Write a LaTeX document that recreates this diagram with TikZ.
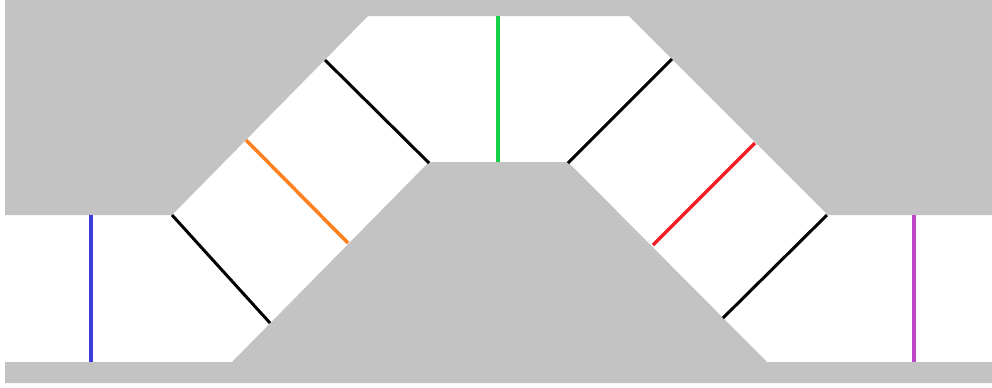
\documentclass[tikz,border=0pt]{standalone}
\definecolor{wallgray}{RGB}{195,195,195}
\definecolor{pblue}{RGB}{60,60,220}
\definecolor{porange}{RGB}{255,128,30}
\definecolor{pgreen}{RGB}{20,210,70}
\definecolor{pred}{RGB}{240,30,40}
\definecolor{ppurple}{RGB}{190,70,200}
\begin{document}
\begin{tikzpicture}[x=0.02cm,y=-0.02cm,
  wall/.style={fill=wallgray,draw=none},
  probe/.style={line width=2pt},
  sect/.style={line width=1.7pt,black}]
\useasboundingbox (0,0) rectangle (992,387);
% walls of the channel
\fill[wall] (5,0) -- (992,0) -- (992,215) -- (828,215) -- (629,16) -- (368,16)
  -- (172,215) -- (5,215) -- cycle;
\fill[wall] (5,383) -- (5,362) -- (232,362) -- (429,162) -- (568,162)
  -- (767,362) -- (992,362) -- (992,383) -- cycle;
% section lines
\draw[probe,pblue] (91,215) -- (91,362);
\draw[sect] (172,215) -- (270,323);
\draw[probe,porange] (246,140) -- (348,243);
\draw[sect] (325,60) -- (429,163);
\draw[probe,pgreen] (498,16) -- (498,162);
\draw[sect] (568,163) -- (672,59);
\draw[probe,pred] (755,143) -- (653,245);
\draw[sect] (827,215) -- (723,318);
\draw[probe,ppurple] (914,215) -- (914,362);
\end{tikzpicture}
\end{document}
